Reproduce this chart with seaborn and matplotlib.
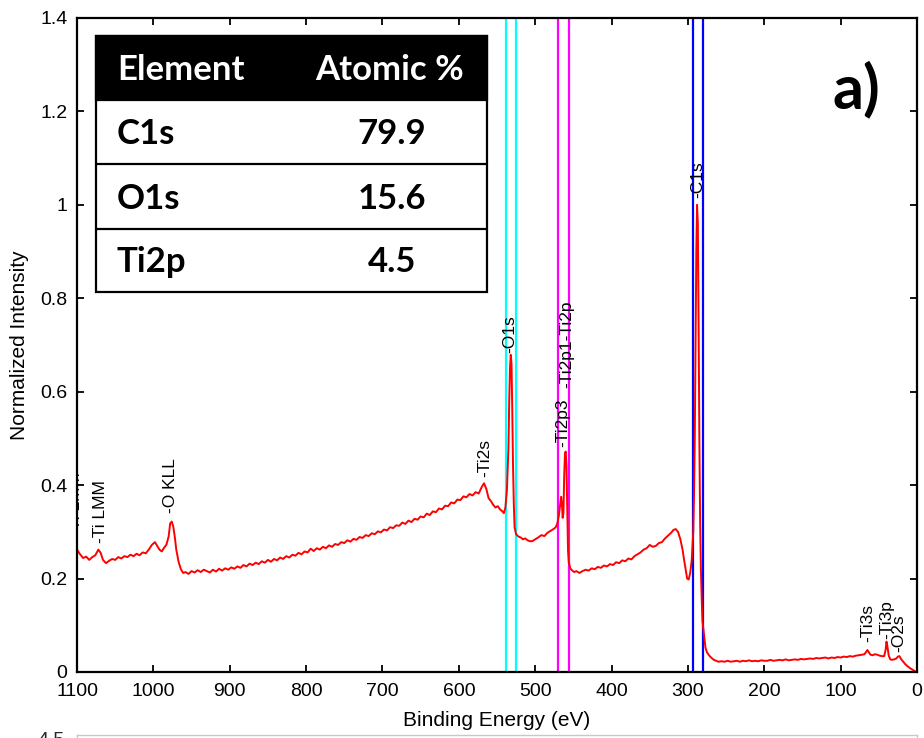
import matplotlib
matplotlib.use("Agg")
import matplotlib.pyplot as plt
from matplotlib.patches import Rectangle
from matplotlib.lines import Line2D
import seaborn as sns
import pandas as pd

# ---------------- data ----------------
binding_energy = [
    1100, 1096, 1092, 1088, 1084, 1080, 1076, 1072, 1069, 1066, 1062, 1058, 1054, 1050,
    1046, 1042, 1038, 1034, 1030, 1026, 1022, 1018, 1014, 1010, 1006, 1002, 998, 995,
    992, 989, 986, 983, 980, 978, 976, 974, 972, 970, 967, 964, 961, 958, 954, 950,
    946, 942, 938, 934, 930, 926, 922, 918, 914, 910, 906, 902, 898, 894, 890, 886,
    882, 878, 874, 870, 866, 862, 858, 854, 850, 846, 842, 838, 834, 830, 826, 822,
    818, 814, 810, 806, 802, 798, 794, 790, 786, 782, 778, 774, 770, 766, 762, 758,
    754, 750, 746, 742, 738, 734, 730, 726, 722, 718, 714, 710, 706, 702, 698, 694,
    690, 686, 682, 678, 674, 670, 666, 662, 658, 654, 650, 646, 642, 638, 634, 630,
    626, 622, 618, 614, 610, 606, 602, 598, 594, 590, 586, 582, 578, 574, 570, 567,
    564, 561, 558, 555, 552, 549, 546, 543, 541, 539, 537, 535, 534, 533, 532, 531,
    530, 529, 528, 527, 525, 522, 519, 516, 513, 510, 507, 504, 500, 496, 492, 488,
    484, 480, 476, 473, 471, 469, 467, 466, 465, 464, 463, 462, 461, 460, 459, 458,
    457, 456, 454, 452, 449, 446, 442, 438, 434, 430, 426, 422, 418, 414, 410, 406,
    402, 398, 394, 390, 386, 382, 378, 374, 370, 366, 362, 358, 354, 350, 346, 342,
    338, 334, 330, 326, 322, 319, 316, 313, 310, 307, 305, 303, 301, 299, 297, 295,
    293, 292, 291, 290, 289, 288, 287, 286, 285, 284, 283, 282, 281, 279, 277, 275,
    272, 269, 266, 263, 260, 256, 252, 248, 244, 240, 236, 232, 228, 224, 220, 216,
    212, 208, 204, 200, 196, 192, 188, 184, 180, 176, 172, 168, 164, 160, 156, 152,
    148, 144, 140, 136, 132, 128, 124, 120, 116, 112, 108, 104, 100, 96, 92, 88,
    84, 80, 76, 72, 69, 67, 65, 63, 61, 58, 55, 52, 49, 46, 43, 41,
    40, 39, 37, 35, 33, 30, 27, 25, 23, 21, 18, 15, 12, 9, 6, 3, 1,
]
normalized_intensity = [
    0.262, 0.252, 0.244, 0.247, 0.240, 0.246, 0.250, 0.262, 0.255, 0.240, 0.233, 0.238, 0.242, 0.240,
    0.246, 0.243, 0.248, 0.246, 0.251, 0.248, 0.253, 0.250, 0.256, 0.254, 0.262, 0.272, 0.278, 0.270,
    0.262, 0.258, 0.266, 0.272, 0.290, 0.318, 0.322, 0.312, 0.290, 0.262, 0.236, 0.220, 0.212, 0.214, 0.210, 0.216,
    0.213, 0.218, 0.214, 0.219, 0.216, 0.213, 0.219, 0.215, 0.221, 0.217, 0.222, 0.219, 0.224, 0.221, 0.226, 0.223,
    0.229, 0.226, 0.232, 0.229, 0.234, 0.231, 0.237, 0.234, 0.240, 0.236, 0.242, 0.239, 0.245, 0.242, 0.248, 0.245,
    0.251, 0.249, 0.255, 0.252, 0.258, 0.256, 0.264, 0.259, 0.265, 0.262, 0.268, 0.265, 0.271, 0.268, 0.274, 0.272,
    0.278, 0.276, 0.282, 0.279, 0.285, 0.283, 0.289, 0.287, 0.293, 0.291, 0.297, 0.295, 0.301, 0.299, 0.305, 0.303,
    0.310, 0.308, 0.314, 0.313, 0.320, 0.317, 0.324, 0.321, 0.328, 0.326, 0.333, 0.331, 0.339, 0.336, 0.344, 0.342,
    0.350, 0.348, 0.356, 0.355, 0.363, 0.361, 0.369, 0.368, 0.376, 0.374, 0.381, 0.378, 0.385, 0.382, 0.396, 0.404,
    0.392, 0.372, 0.366, 0.358, 0.352, 0.355, 0.348, 0.344, 0.340, 0.352, 0.390, 0.480, 0.580, 0.650, 0.679, 0.660,
    0.560, 0.440, 0.360, 0.310, 0.295, 0.290, 0.288, 0.284, 0.286, 0.282, 0.280, 0.280, 0.284, 0.288, 0.293, 0.291,
    0.298, 0.302, 0.306, 0.310, 0.318, 0.335, 0.362, 0.375, 0.360, 0.330, 0.340, 0.420, 0.468, 0.472, 0.440, 0.350,
    0.260, 0.235, 0.222, 0.218, 0.214, 0.216, 0.212, 0.216, 0.219, 0.217, 0.222, 0.220, 0.225, 0.223, 0.228, 0.226,
    0.231, 0.229, 0.235, 0.233, 0.239, 0.237, 0.243, 0.241, 0.248, 0.252, 0.256, 0.262, 0.265, 0.272, 0.268, 0.270,
    0.276, 0.278, 0.286, 0.292, 0.298, 0.304, 0.306, 0.300, 0.285, 0.262, 0.240, 0.220, 0.200, 0.198, 0.212, 0.240,
    0.300, 0.380, 0.500, 0.700, 0.900, 1.000, 0.960, 0.750, 0.500, 0.320, 0.220, 0.160, 0.110, 0.080, 0.052, 0.042,
    0.035, 0.030, 0.026, 0.024, 0.022, 0.023, 0.022, 0.024, 0.022, 0.023, 0.024, 0.022, 0.024, 0.023, 0.025, 0.023,
    0.024, 0.023, 0.025, 0.024, 0.024, 0.026, 0.024, 0.025, 0.026, 0.025, 0.027, 0.025, 0.026, 0.027, 0.026, 0.028,
    0.027, 0.028, 0.029, 0.028, 0.030, 0.029, 0.030, 0.031, 0.029, 0.031, 0.030, 0.032, 0.031, 0.033, 0.032, 0.034,
    0.033, 0.035, 0.036, 0.037, 0.038, 0.042, 0.047, 0.042, 0.037, 0.036, 0.038, 0.037, 0.035, 0.034, 0.034, 0.048,
    0.065, 0.058, 0.035, 0.027, 0.026, 0.027, 0.029, 0.033, 0.034, 0.028, 0.022, 0.016, 0.012, 0.008, 0.005, 0.002, 0.000,
]

peak_labels = ["-Ti LMM", "-Ti LMM", "-O KLL", "-Ti2s", "-O1s", "-Ti2p3", "-Ti2p1-Ti2p",
               "-C1s", "-Ti3s", "-Ti3p", "-O2s"]
peak_label_be = [1101.5, 1069, 977, 566, 533.5, 464, 459, 286.5, 65, 39, 23.5]
peak_label_y = [0.293, 0.276, 0.340, 0.418, 0.683, 0.482, 0.608, 1.015, 0.065, 0.070, 0.043]

region_lines_be = [538.5, 525.5, 470.5, 456.0, 293.0, 280.0]
region_lines_color = ["#00ffff", "#00ffff", "#ff00ff", "#ff00ff", "#0000ff", "#0000ff"]

table_header = ["Element", "Atomic %"]
table_elements = ["C1s", "O1s", "Ti2p"]
table_atomic = ["79.9", "15.6", "4.5"]

x_ticks = [0, 100, 200, 300, 400, 500, 600, 700, 800, 900, 1000, 1100]
y_ticks = [0, 0.2, 0.4, 0.6, 0.8, 1.0, 1.2, 1.4]

# ---------------- style ----------------
sns.set_theme(style="ticks")
plt.rcParams["font.family"] = ["Liberation Sans", "DejaVu Sans"]

W, H = 924, 738
fig = plt.figure(figsize=(W / 100, H / 100), dpi=100)
ax_l, ax_r, ax_t, ax_b = 77, 917, 18, 672
ax = fig.add_axes([ax_l / W, 1 - ax_b / H, (ax_r - ax_l) / W, (ax_b - ax_t) / H])

df = pd.DataFrame({"be": binding_energy, "intensity": normalized_intensity})

for xv, c in zip(region_lines_be, region_lines_color):
    ax.axvline(xv, color=c, lw=1.6, zorder=1)

sns.lineplot(data=df, x="be", y="intensity", color="red", linewidth=1.4,
             sort=False, estimator=None, ax=ax, zorder=2)

for txt, xv, yv in zip(peak_labels, peak_label_be, peak_label_y):
    ax.text(xv, yv, txt, rotation=90, ha="center", va="bottom", fontsize=12.5,
            color="black", clip_on=True, zorder=3)

ax.set_xlim(1100, 0)
ax.set_ylim(0, 1.4)
ax.set_xticks(x_ticks)
ax.set_yticks(y_ticks)
ax.set_xticklabels([str(v) for v in x_ticks])
ax.set_yticklabels([f"{v:g}" for v in y_ticks])
ax.tick_params(direction="in", length=5, width=1.3, labelsize=14, top=True, right=True,
               color="black", labelcolor="black")
ax.tick_params(axis="x", pad=8)
ax.tick_params(axis="y", pad=7)
for s in ax.spines.values():
    s.set_linewidth(1.6)
    s.set_color("black")
ax.set_xlabel("Binding Energy (eV)", fontsize=15, labelpad=8, color="black")
ax.set_ylabel("Normalized Intensity", fontsize=15, labelpad=8, color="black")
ax.set_facecolor("white")

# ---------------- table (figure coordinates) ----------------
tb_x0, tb_x1 = 96, 487
row_edges = [36, 100, 164, 229, 292]
tf = fig.transFigure


def fx(px):
    return px / W


def fy(py):
    return 1 - py / H


fig.add_artist(Rectangle((fx(tb_x0), fy(row_edges[-1])), fx(tb_x1) - fx(tb_x0),
                         fy(row_edges[0]) - fy(row_edges[-1]), transform=tf,
                         facecolor="white", edgecolor="black", lw=1.6, zorder=5))
fig.add_artist(Rectangle((fx(tb_x0), fy(row_edges[1])), fx(tb_x1) - fx(tb_x0),
                         fy(row_edges[0]) - fy(row_edges[1]), transform=tf,
                         facecolor="black", edgecolor="black", lw=1.6, zorder=6))
for ry in row_edges[2:-1]:
    fig.add_artist(Line2D([fx(tb_x0), fx(tb_x1)], [fy(ry), fy(ry)], transform=tf,
                          color="black", lw=1.6, zorder=6))

tfont = dict(family=["Lato", "DejaVu Sans"], fontweight="bold", fontsize=25)
fig.text(fx(117), fy(80), table_header[0], color="white", ha="left", va="baseline", zorder=7, **tfont)
fig.text(fx(390), fy(80), table_header[1], color="white", ha="center", va="baseline", zorder=7, **tfont)
for i, (el, at) in enumerate(zip(table_elements, table_atomic)):
    base = row_edges[i + 2] - 20
    fig.text(fx(117), fy(base), el, color="black", ha="left", va="baseline", zorder=7, **tfont)
    fig.text(fx(392), fy(base), at, color="black", ha="center", va="baseline", zorder=7, **tfont)

fig.text(fx(832), fy(108), "a)", color="black", ha="left", va="baseline", zorder=7,
         family=["Lato", "DejaVu Sans"], fontweight="bold", fontsize=44)

# ---------------- next panel peeking in at the bottom ----------------
ax2_h = 400
ax2 = fig.add_axes([ax_l / W, (H - 735 - ax2_h) / H, (ax_r - ax_l) / W, ax2_h / H])
ax2.set_ylim(0, 4.545)
ax2.set_xlim(1100, 0)
ax2.set_yticks([4.5])
ax2.set_yticklabels(["4.5"])
ax2.set_xticks([])
ax2.tick_params(axis="y", direction="in", length=0, labelsize=14, pad=9)
for s in ax2.spines.values():
    s.set_color("#c8c8c8")
    s.set_linewidth(1.0)
ax2.set_facecolor("white")

fig.savefig("out.png", dpi=100, facecolor="white")
